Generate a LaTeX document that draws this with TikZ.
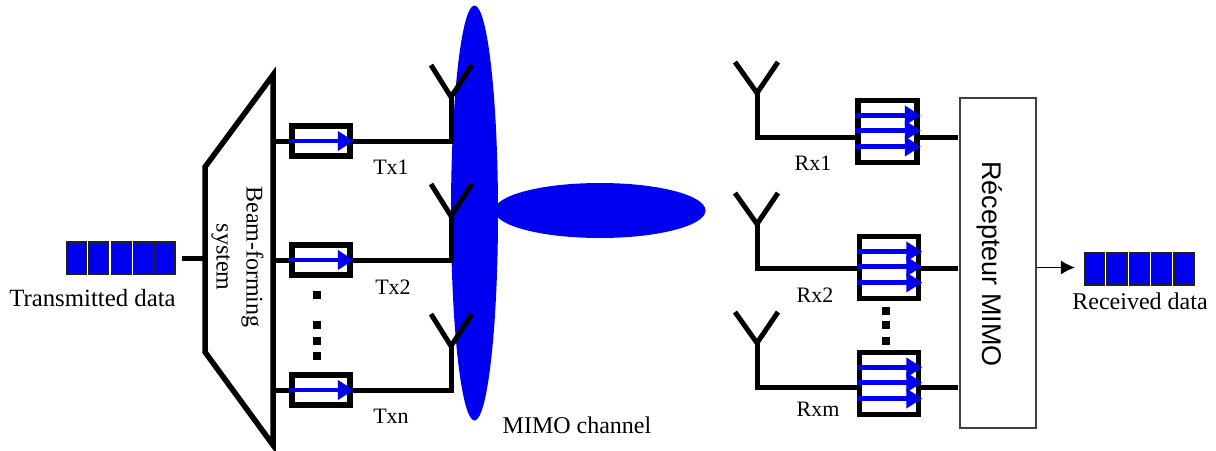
\documentclass[tikz,border=0pt]{standalone}
\usepackage{fontspec}
\setmainfont{Liberation Serif}
\setsansfont{Liberation Sans}
\usetikzlibrary{arrows.meta,shapes.geometric}
\definecolor{beamBlue}{HTML}{0000F0}
\definecolor{cellEdge}{HTML}{202020}
\definecolor{rxEdge}{HTML}{404040}
\tikzset{
    cell/.style={
        rectangle,
        draw=cellEdge,
        line width=1.2pt,
        fill=beamBlue,
        minimum width=20pt,
        minimum height=32pt,
        inner sep=0pt
    },
    filterbox/.style={
        rectangle,
        draw=black,
        line width=5.5pt,
        fill=white,
        inner sep=0pt
    },
    txbox/.style={filterbox,minimum width=58pt,minimum height=30pt},
    rxbox/.style={filterbox,minimum width=59pt,minimum height=62pt},
    lobe/.style={ellipse,fill=beamBlue,inner sep=0pt},
    dotmark/.style={rectangle,fill=black,minimum size=8pt,inner sep=0pt},
    wire/.style={line width=5pt,draw=black},
    signal/.style={-{Triangle[length=16pt,width=19pt]},line width=4.5pt,draw=beamBlue,shorten >=-1pt},
    label/.style={font=\fontsize{22}{24}\selectfont,inner sep=0pt}
}
\begin{document}
\begin{tikzpicture}[x=1pt,y=-1pt]
    \useasboundingbox (0,0) rectangle (1216,450);

    % radiation lobes
    \node[lobe,minimum width=47pt,minimum height=415pt] (lobeV) at (474.5,213) {};
    \node[lobe,minimum width=211pt,minimum height=55pt] (lobeH) at (600,210.5) {};

    % data queues
    \foreach \n/\x in {1/76.5,2/98.5,3/121.5,4/143.5,5/165}
        \node[cell] (qt\n) at (\x,258) {};
    \foreach \n/\x in {1/1094.5,2/1117,3/1139.5,4/1161.5,5/1184}
        \node[cell] (qr\n) at (\x,269) {};
    \node[label,font=\fontsize{24.8}{26}\selectfont] (txdata) at (92.5,298) {Transmitted data};
    \node[label,font=\fontsize{24}{26}\selectfont] (rxdata) at (1140,301) {Received data};

    % beam-forming trapezium
    \coordinate (bfA) at (205,167);
    \coordinate (bfB) at (273,75);
    \coordinate (bfC) at (273,445);
    \coordinate (bfD) at (205,352);
    \draw[wire,line width=5.5pt] (bfA) -- (bfB) -- (bfC) -- (bfD) -- cycle;
    \node[label,rotate=-90,align=center,font=\fontsize{24}{30}\selectfont] (bftext) at (237.5,257)
        {Beam-forming\\system};
    \coordinate (qtend) at (182,258);
    \draw[wire] (qtend) -- (205,258);

    % transmit branches
    \foreach \n/\y/\t/\lx/\ly in {1/141/Tx1/391/167,2/260/Tx2/393/287,3/390/Txn/391/416} {
        \node[txbox] (tx\n) at (321,\y) {};
        \coordinate (txa\n) at (451,\y-44);
        \coordinate (txb\n) at (451,\y);
        \coordinate (txl\n) at (431,\y-76);
        \coordinate (txr\n) at (472,\y-76);
        \coordinate (txs\n) at (273,\y);
        \draw[wire] (txs\n) -- (tx\n.west);
        \draw[wire] (tx\n.east) -- (txb\n) -- (txa\n);
        \draw[wire] (txl\n) -- (txa\n) -- (txr\n);
        \draw[signal] (tx\n.west) -- (tx\n.east);
        \node[label] (txt\n) at (\lx,\ly) {\t};
    }
    \foreach \y in {295,325,341,356}
        \node[dotmark] at (317,\y) {};

    % MIMO receiver
    \node[rectangle,draw=rxEdge,line width=1.2pt,fill=white,minimum width=76pt,minimum height=330pt,
        inner sep=0pt] (rx) at (998,263) {};
    \node[rotate=-90,inner sep=0pt,font=\sffamily\fontsize{27}{29}\selectfont] (rxtext) at (990,264)
        {Récepteur MIMO};

    % receive branches
    \foreach \n/\x/\c/\y/\t/\lx/\ly in {1/887.5/131.5/137/Rx1/813/163,2/889/267.5/268/Rx2/815/295,3/889/383.5/387/Rxm/818/409} {
        \node[rxbox] (rb\n) at (\x,\c) {};
        \coordinate (rxa\n) at (757,\y-44);
        \coordinate (rxb\n) at (757,\y);
        \coordinate (rxl\n) at (735,\y-75);
        \coordinate (rxr\n) at (778,\y-75);
        \coordinate (rxi\n) at (rb\n.west |- rxb\n);
        \coordinate (rxe\n) at (rb\n.east |- rxb\n);
        \coordinate (rxo\n) at (958,\y);
        \draw[wire] (rxa\n) -- (rxb\n) -- (rxi\n);
        \draw[wire] (rxl\n) -- (rxa\n) -- (rxr\n);
        \draw[wire] (rxe\n) -- (rxo\n);
        \foreach \d in {-16,-1,15}
            \draw[signal] ([yshift=-\d pt]rb\n.west) -- ([yshift=-\d pt]rb\n.east);
        \node[label] (rxt\n) at (\lx,\ly) {\t};
    }
    \foreach \y in {311,325,341}
        \node[dotmark] at (886,\y) {};

    \node[label,font=\fontsize{24}{26}\selectfont] (chan) at (577,425) {MIMO channel};
    \draw[-{Latex[length=14pt,width=14pt]},line width=1.2pt,shorten >=9pt] (rx.east |- rb2) -- (qr1.west |- rb2);
\end{tikzpicture}
\end{document}
